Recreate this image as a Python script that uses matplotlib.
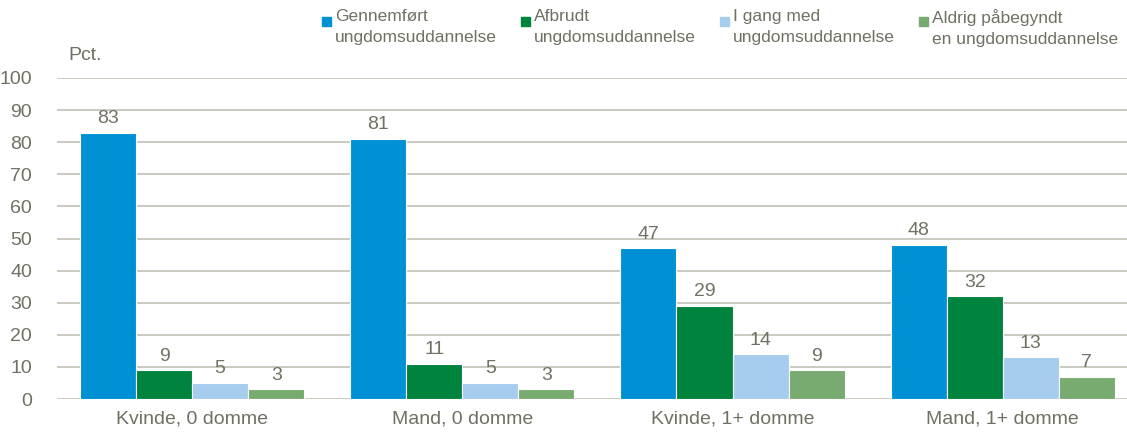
import numpy as np
import matplotlib
matplotlib.use("Agg")
import matplotlib.pyplot as plt
from matplotlib.patches import Rectangle

plt.rcParams['font.family'] = ['Liberation Sans', 'DejaVu Sans']

groups = ['Kvinde, 0 domme', 'Mand, 0 domme', 'Kvinde, 1+ domme', 'Mand, 1+ domme']
series = ['Gennemført\nungdomsuddannelse', 'Afbrudt\nungdomsuddannelse',
          'I gang med\nungdomsuddannelse', 'Aldrig påbegyndt\nen ungdomsuddannelse']
gennemfort = [83, 81, 47, 48]
afbrudt = [9, 11, 29, 32]
i_gang = [5, 5, 14, 13]
aldrig = [3, 3, 9, 7]
colors = ['#0090d4', '#00843d', '#a7cdee', '#78ab6f']
txt = '#707063'
grid_c = '#c2c1b5'

fig = plt.figure(figsize=(11.27, 4.45), dpi=100)
ax = fig.add_axes([57/1127, 46/445, 1 - 57/1127, 321/445])

x = np.arange(len(groups))
w = 0.2074
data = [gennemfort, afbrudt, i_gang, aldrig]
for i, vals in enumerate(data):
    pos = x + (i - 1.5) * w
    bars = ax.bar(pos, vals, w, color=colors[i], edgecolor='white', linewidth=0.8, zorder=3)
    for b, v in zip(bars, vals):
        ax.annotate(str(v), (b.get_x() + b.get_width()/2, v), xytext=(0, 4),
                    textcoords='offset points', ha='center', va='bottom',
                    fontsize=14, color=txt)

ax.set_ylim(0, 100)
ax.set_xlim(-0.5, 3.46)
ax.set_yticks(range(0, 101, 10))
ax.yaxis.grid(True, color=grid_c, linewidth=1.2, zorder=0)
ax.set_axisbelow(True)
for s in ax.spines.values():
    s.set_visible(False)
ax.tick_params(axis='y', length=0, labelsize=14, labelcolor=txt, pad=18)
ax.tick_params(axis='x', length=0, labelsize=14, labelcolor=txt, pad=8)
ax.set_xticks(x)
ax.set_xticklabels(groups)

fig.text(68/1127, 1 - 55/445, 'Pct.', fontsize=14, color=txt, va='center')

# legend, laid out by hand like the original
lx = [322, 521, 720, 919]
for i, lab in enumerate(series):
    fig.patches.append(Rectangle((lx[i]/1127, 1 - 26/445), 9/1127, 9/445,
                                 transform=fig.transFigure, color=colors[i]))
    fig.text((lx[i] + 13)/1127, 1 - 9/445, lab, fontsize=12.5, color=txt,
             va='top', ha='left', linespacing=1.5)

fig.savefig('out.png', dpi=100)
